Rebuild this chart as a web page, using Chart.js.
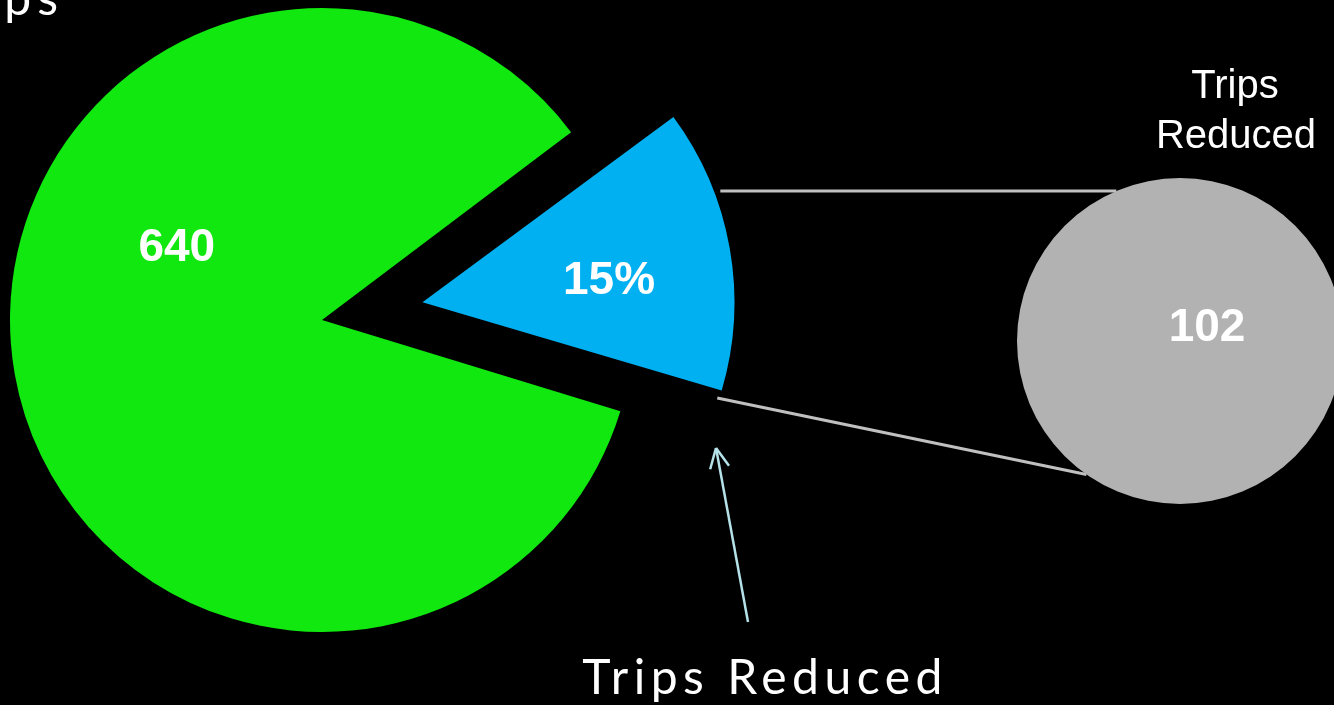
<!DOCTYPE html>
<html>
<head>
<meta charset="utf-8">
<title>Trips Reduced</title>
<script src="https://cdn.jsdelivr.net/npm/chart.js@4.4.1/dist/chart.umd.min.js"></script>
<style>
  html, body { margin: 0; padding: 0; background: #000; overflow: hidden; }
  #stage { position: relative; width: 1334px; height: 705px; }
  #stage canvas { position: absolute; left: 0; top: 0; }
</style>
</head>
<body>
<div id="stage">
  <canvas id="trips-chart" width="1334" height="705"></canvas>
  <canvas id="reduced-chart" width="1334" height="705"></canvas>
</div>
<script>
// data
const TRIP_CATEGORIES = ['Trips', 'Trips Reduced'];
const TRIP_VALUES = [640, 113];
const REDUCED_CATEGORIES = ['Trips Reduced'];
const REDUCED_VALUES = [102];

const GREEN = '#10e810';
const BLUE = '#00b0f0';
const GREY = '#b2b2b2';
const LABEL_FONT = 'bold 46px "Liberation Sans", Arial, sans-serif';
const CAPTION_FONT = '48px Lato, "Liberation Sans", sans-serif';

// where each slice label sits, relative to the (exploded) slice centre
const sliceLabelSpots = [
    { angle: -153, dist: 163 },
    { angle: -7, dist: 188 }
];

// connector lines: angle on the blue slice -> angle on the grey circle
const connectors = [
    { from: -20.5, pad: 6, to: -113 },
    { from: 18, pad: -2, to: 125 }
];

const rad = deg => deg * Math.PI / 180;

function sliceCentre(arc) {
    const mid = (arc.startAngle + arc.endAngle) / 2;
    const shift = (arc.options.offset || 0) / 4;
    return { x: arc.x + Math.cos(mid) * shift, y: arc.y + Math.sin(mid) * shift };
}

function line(ctx, x1, y1, x2, y2) {
    ctx.beginPath();
    ctx.moveTo(x1, y1);
    ctx.lineTo(x2, y2);
    ctx.stroke();
}

// chart.js grows an exploded arc's radius a little; keep it the same size as the rest
const keepRadius = {
    id: 'keepRadius',
    afterUpdate(chart) {
        chart.getDatasetMeta(0).data.forEach(arc => {
            const shift = (arc.options.offset || 0) / 4;
            if (!shift) return;
            const fix = 1 - Math.sin(Math.min(Math.PI, arc.circumference));
            arc.outerRadius -= shift * fix;
        });
    }
};

const sliceLabels = {
    id: 'sliceLabels',
    afterDatasetsDraw(chart) {
        const ctx = chart.ctx;
        const values = chart.data.datasets[0].data;
        const total = values.reduce((a, b) => a + b, 0);
        ctx.save();
        ctx.font = LABEL_FONT;
        ctx.fillStyle = '#fff';
        ctx.textAlign = 'center';
        ctx.textBaseline = 'middle';
        chart.getDatasetMeta(0).data.forEach((arc, i) => {
            const c = sliceCentre(arc);
            const spot = sliceLabelSpots[i];
            const text = i === 0 ? String(values[i]) : Math.round(values[i] / total * 100) + '%';
            ctx.fillText(text, c.x + Math.cos(rad(spot.angle)) * spot.dist,
                c.y + Math.sin(rad(spot.angle)) * spot.dist + 2);
        });
        ctx.restore();
    },
    afterDraw(chart) {
        const ctx = chart.ctx;
        ctx.save();
        // arrow pointing up at the slice
        ctx.strokeStyle = '#b4e2e8';
        ctx.lineWidth = 2.5;
        const tail = { x: 748, y: 622 }, tip = { x: 716, y: 448 };
        line(ctx, tail.x, tail.y, tip.x, tip.y);
        const a = Math.atan2(tail.y - tip.y, tail.x - tip.x);
        [-0.45, 0.45].forEach(d => {
            line(ctx, tip.x, tip.y, tip.x + Math.cos(a + d) * 22, tip.y + Math.sin(a + d) * 22);
        });

        ctx.fillStyle = '#fff';
        ctx.font = CAPTION_FONT;
        ctx.letterSpacing = '5.5px';
        ctx.textBaseline = 'alphabetic';
        ctx.textAlign = 'center';
        ctx.fillText('Trips Reduced', 765, 694);
        ctx.textAlign = 'right';
        ctx.letterSpacing = '6px';
        ctx.fillText('Trips', 64, 15);

        ctx.letterSpacing = '0px';
        ctx.font = '40px "Liberation Sans", Arial, sans-serif';
        ctx.textAlign = 'center';
        ctx.fillText('Trips', 1235, 98);
        ctx.fillText('Reduced', 1236, 148);
        ctx.restore();
    }
};

const tripsChart = new Chart(document.getElementById('trips-chart'), {
    type: 'pie',
    data: {
        labels: TRIP_CATEGORIES,
        datasets: [{
            data: TRIP_VALUES,
            backgroundColor: [GREEN, BLUE],
            borderWidth: 0,
            offset: [0, 408],
            clip: false
        }]
    },
    options: {
        responsive: false,
        animation: false,
        events: [],
        rotation: 107,
        radius: 312,
        layout: { padding: { left: 0, top: 0, right: 690, bottom: 65 } },
        plugins: { legend: { display: false }, tooltip: { enabled: false } }
    },
    plugins: [keepRadius, sliceLabels]
});

// grey circle with the connectors running into it
const connectorLines = {
    id: 'connectorLines',
    beforeDatasetsDraw(chart) {
        const arcs = tripsChart.getDatasetMeta(0).data;
        const bc = sliceCentre(arcs[1]);
        const pieRadius = arcs[0].outerRadius;
        const circle = chart.getDatasetMeta(0).data[0];
        const ctx = chart.ctx;
        ctx.save();
        ctx.strokeStyle = '#c0c0c0';
        ctx.lineWidth = 3;
        connectors.forEach(c => {
            const r1 = pieRadius + c.pad;
            const r2 = circle.outerRadius;
            line(ctx,
                bc.x + Math.cos(rad(c.from)) * r1, bc.y + Math.sin(rad(c.from)) * r1,
                circle.x + Math.cos(rad(c.to)) * r2, circle.y + Math.sin(rad(c.to)) * r2);
        });
        ctx.restore();
    },
    afterDatasetsDraw(chart) {
        const circle = chart.getDatasetMeta(0).data[0];
        const ctx = chart.ctx;
        ctx.save();
        ctx.font = LABEL_FONT;
        ctx.fillStyle = '#fff';
        ctx.textAlign = 'center';
        ctx.textBaseline = 'middle';
        ctx.fillText(String(chart.data.datasets[0].data[0]), circle.x + 27, circle.y - 13);
        ctx.restore();
    }
};

new Chart(document.getElementById('reduced-chart'), {
    type: 'pie',
    data: {
        labels: REDUCED_CATEGORIES,
        datasets: [{
            data: REDUCED_VALUES,
            backgroundColor: [GREY],
            borderWidth: 0,
            clip: false
        }]
    },
    options: {
        responsive: false,
        animation: false,
        events: [],
        radius: 163,
        layout: { padding: { left: 1026, top: 0, right: 0, bottom: 23 } },
        plugins: { legend: { display: false }, tooltip: { enabled: false } }
    },
    plugins: [connectorLines]
});
</script>
</body>
</html>
